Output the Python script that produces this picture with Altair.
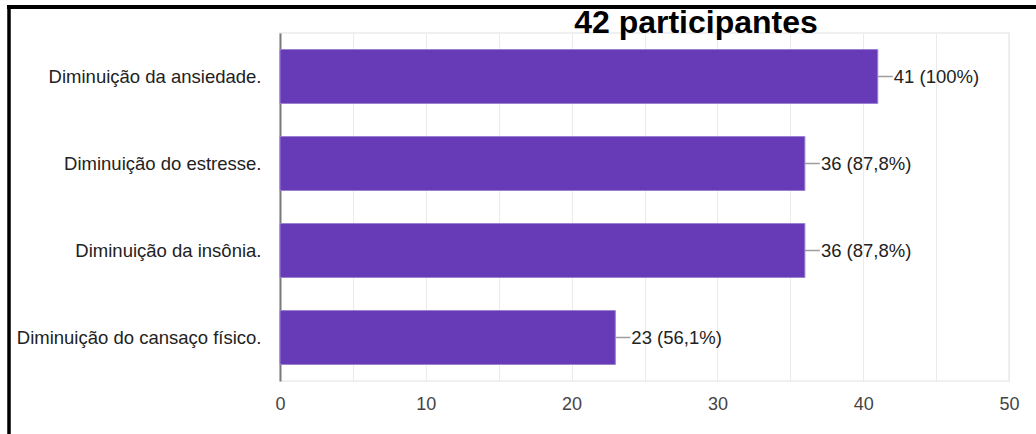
import altair as alt
import pandas as pd

# Survey results: benefits reported by participants
categories = [
    "Diminuição da ansiedade.",
    "Diminuição do estresse.",
    "Diminuição da insônia.",
    "Diminuição do cansaço físico.",
]
counts = [41, 36, 36, 23]
respondents = 41
title_text = "42 participantes"
x_ticks = [0, 5, 10, 15, 20, 25, 30, 35, 40, 45, 50]

def pct_label(n):
    pct = n / respondents * 100
    txt = f"{pct:.1f}".rstrip("0").rstrip(".").replace(".", ",")
    return f"{n} ({txt}%)"

df = pd.DataFrame({
    "categoria": categories,
    "valor": counts,
    "rotulo": [pct_label(n) for n in counts],
})

FONT = "Liberation Sans, Arial"
PURPLE = "#673ab7"

base = alt.Chart(df)

y_enc = alt.Y(
    "categoria:N",
    sort=categories,
    title=None,
    scale=alt.Scale(paddingInner=0.38, paddingOuter=0.19),
    axis=alt.Axis(
        domain=True, domainColor="#7a7a7a", domainWidth=2,
        ticks=False, labelPadding=19, labelFontSize=18.5, labelFont=FONT,
        labelColor="#222222", labelLimit=400, grid=False,
    ),
)
x_enc = alt.X(
    "valor:Q",
    title=None,
    scale=alt.Scale(domain=[0, 50], nice=False),
    axis=alt.Axis(
        values=x_ticks,
        labelExpr="datum.value % 10 == 0 ? datum.label : ''",
        domain=False, ticks=False, grid=True, gridColor="#ebebeb",
        labelFontSize=18, labelFont=FONT, labelColor="#444444",
        labelPadding=14, labelFlush=False,
    ),
)

bars = base.mark_bar(color=PURPLE, stroke="#9a82d0", strokeWidth=1).encode(
    y=y_enc, x=x_enc
)

leaders = base.mark_rule(color="#9e9e9e", strokeWidth=1.5, x2Offset=15).encode(
    y=alt.Y("categoria:N", sort=categories),
    x="valor:Q",
    x2="valor:Q",
)

labels = base.mark_text(
    align="left", baseline="middle", dx=16, fontSize=18.5, font=FONT, color="#222222"
).encode(
    y=alt.Y("categoria:N", sort=categories),
    x="valor:Q",
    text="rotulo:N",
)

one = alt.Data(values=[{"t": title_text}])

title = alt.Chart(one).mark_text(
    align="center", baseline="alphabetic", fontSize=32, fontWeight="bold",
    font="Liberation Sans, Arial", color="#000000",
).encode(x=alt.value(416), y=alt.value(0), text="t:N")

frame_left = alt.Chart(one).mark_rule(color="#000000", strokeWidth=3.5).encode(
    x=alt.value(-271), y=alt.value(-28), y2=alt.value(401)
)
frame_top = alt.Chart(one).mark_rule(color="#000000", strokeWidth=4).encode(
    x=alt.value(-273), x2=alt.value(760), y=alt.value(-26)
)

chart = (
    alt.layer(bars, leaders, labels, title, frame_left, frame_top)
    .properties(
        width=729, height=348,
        autosize=alt.AutoSizeParams(type="none"),
        padding={"left": 280, "top": 33, "right": 27, "bottom": 53},
        background="#ffffff",
    )
    .configure_view(stroke="#ebebeb", strokeWidth=1.5)
)

chart.save("out.html", embed_options={"renderer": "svg", "actions": False})
